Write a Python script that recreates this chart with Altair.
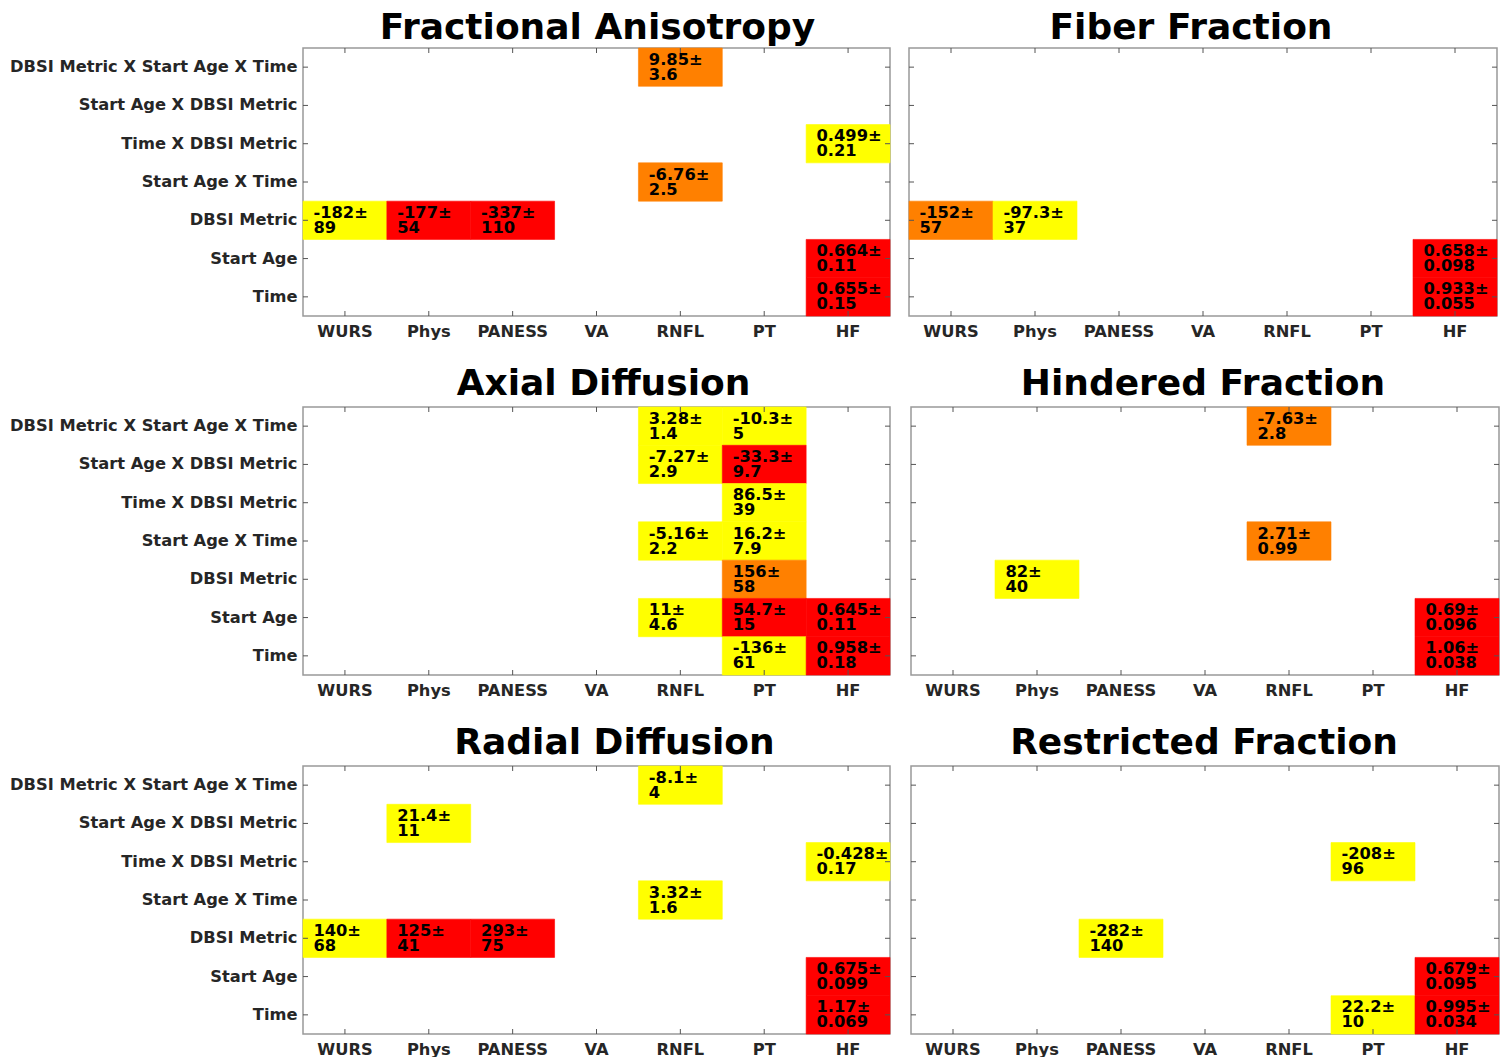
import altair as alt
import pandas as pd

COLS = ["WURS", "Phys", "PANESS", "VA", "RNFL", "PT", "HF"]
ROWS = [
    "DBSI Metric X Start Age X Time",
    "Start Age X DBSI Metric",
    "Time X DBSI Metric",
    "Start Age X Time",
    "DBSI Metric",
    "Start Age",
    "Time",
]
SIG_LEVELS = ["p<0.05", "p<0.01", "p<0.001"]
SIG_COLORS = ["#FFFF00", "#FF8000", "#FF0000"]

R0, R1, R2, R3, R4, R5, R6 = ROWS

FA_CELLS = [
    (R0, "RNFL", "9.85", "3.6", "p<0.01"),
    (R2, "HF", "0.499", "0.21", "p<0.05"),
    (R3, "RNFL", "-6.76", "2.5", "p<0.01"),
    (R4, "WURS", "-182", "89", "p<0.05"),
    (R4, "Phys", "-177", "54", "p<0.001"),
    (R4, "PANESS", "-337", "110", "p<0.001"),
    (R5, "HF", "0.664", "0.11", "p<0.001"),
    (R6, "HF", "0.655", "0.15", "p<0.001"),
]
FF_CELLS = [
    (R4, "WURS", "-152", "57", "p<0.01"),
    (R4, "Phys", "-97.3", "37", "p<0.05"),
    (R5, "HF", "0.658", "0.098", "p<0.001"),
    (R6, "HF", "0.933", "0.055", "p<0.001"),
]
AD_CELLS = [
    (R0, "RNFL", "3.28", "1.4", "p<0.05"),
    (R0, "PT", "-10.3", "5", "p<0.05"),
    (R1, "RNFL", "-7.27", "2.9", "p<0.05"),
    (R1, "PT", "-33.3", "9.7", "p<0.001"),
    (R2, "PT", "86.5", "39", "p<0.05"),
    (R3, "RNFL", "-5.16", "2.2", "p<0.05"),
    (R3, "PT", "16.2", "7.9", "p<0.05"),
    (R4, "PT", "156", "58", "p<0.01"),
    (R5, "RNFL", "11", "4.6", "p<0.05"),
    (R5, "PT", "54.7", "15", "p<0.001"),
    (R5, "HF", "0.645", "0.11", "p<0.001"),
    (R6, "PT", "-136", "61", "p<0.05"),
    (R6, "HF", "0.958", "0.18", "p<0.001"),
]
HF_CELLS = [
    (R0, "RNFL", "-7.63", "2.8", "p<0.01"),
    (R3, "RNFL", "2.71", "0.99", "p<0.01"),
    (R4, "Phys", "82", "40", "p<0.05"),
    (R5, "HF", "0.69", "0.096", "p<0.001"),
    (R6, "HF", "1.06", "0.038", "p<0.001"),
]
RD_CELLS = [
    (R0, "RNFL", "-8.1", "4", "p<0.05"),
    (R1, "Phys", "21.4", "11", "p<0.05"),
    (R2, "HF", "-0.428", "0.17", "p<0.05"),
    (R3, "RNFL", "3.32", "1.6", "p<0.05"),
    (R4, "WURS", "140", "68", "p<0.05"),
    (R4, "Phys", "125", "41", "p<0.001"),
    (R4, "PANESS", "293", "75", "p<0.001"),
    (R5, "HF", "0.675", "0.099", "p<0.001"),
    (R6, "HF", "1.17", "0.069", "p<0.001"),
]
RF_CELLS = [
    (R2, "PT", "-208", "96", "p<0.05"),
    (R4, "PANESS", "-282", "140", "p<0.05"),
    (R5, "HF", "0.679", "0.095", "p<0.001"),
    (R6, "PT", "22.2", "10", "p<0.05"),
    (R6, "HF", "0.995", "0.034", "p<0.001"),
]

FONT = "DejaVu Sans"
LABEL_COLOR = "#262626"
TICK_COLOR = "#555555"
H = 268
FS = 16.3


def panel(title, cells, show_y, width, title_offset=4, title_dx=0):
    df = pd.DataFrame(cells, columns=["row", "col", "est", "se", "sig"])
    df["label"] = df["est"] + "±\n" + df["se"]
    xaxis = alt.Axis(labelAngle=0, labelFont=FONT, labelFontWeight="bold",
                     labelFontSize=FS, labelColor=LABEL_COLOR, ticks=False,
                     tickSize=0, domain=False, labelPadding=7,
                     minExtent=25, maxExtent=25)
    xs = alt.Scale(domain=COLS, paddingInner=0, paddingOuter=0)
    ys = alt.Scale(domain=ROWS, paddingInner=0, paddingOuter=0)
    if show_y:
        yaxis = alt.Axis(labelFont=FONT, labelFontWeight="bold", labelFontSize=FS,
                         labelColor=LABEL_COLOR, ticks=False, tickSize=0,
                         domain=False, labelPadding=6, labelLimit=400,
                         minExtent=297, maxExtent=297)
    else:
        yaxis = None
    x = alt.X("col:N", scale=xs, axis=xaxis, title=None)
    y = alt.Y("row:N", scale=ys, axis=yaxis, title=None)
    sig_scale = alt.Scale(domain=SIG_LEVELS, range=SIG_COLORS)
    rect = alt.Chart(df).mark_rect(strokeWidth=0.6).encode(
        x=x, y=y,
        color=alt.Color("sig:N", scale=sig_scale, legend=None),
        stroke=alt.Stroke("sig:N", scale=sig_scale, legend=None),
    )
    text = alt.Chart(df).mark_text(
        align="left", baseline="middle", dx=-width / 7 * 0.4 + 2, dy=-7.5, font=FONT,
        fontWeight="bold", fontSize=FS, lineHeight=15, lineBreak="\n", color="black",
    ).encode(x=x, y=y, text="label:N")
    tx = pd.DataFrame({"col": COLS})
    ty = pd.DataFrame({"row": ROWS})
    xt = alt.X("col:N", scale=xs, axis=xaxis, title=None, bandPosition=0.5)
    yt = alt.Y("row:N", scale=ys, axis=yaxis, title=None, bandPosition=0.5)
    top_ticks = alt.Chart(tx).mark_rule(color=TICK_COLOR, strokeWidth=1).encode(
        x=xt, y=alt.value(0), y2=alt.value(5))
    bot_ticks = alt.Chart(tx).mark_rule(color=TICK_COLOR, strokeWidth=1).encode(
        x=xt, y=alt.value(H), y2=alt.value(H - 5))
    left_ticks = alt.Chart(ty).mark_rule(color=TICK_COLOR, strokeWidth=1).encode(
        y=yt, x=alt.value(0), x2=alt.value(5))
    right_ticks = alt.Chart(ty).mark_rule(color=TICK_COLOR, strokeWidth=1).encode(
        y=yt, x=alt.value(width), x2=alt.value(width - 5))
    return alt.layer(rect, text, top_ticks, bot_ticks, left_ticks, right_ticks).properties(
        width=width, height=H,
        title=alt.TitleParams(text=title, fontSize=36, font=FONT, fontWeight="bold",
                              color="black", anchor="middle", offset=title_offset,
                              dx=title_dx),
    )


row1 = alt.hconcat(panel("Fractional Anisotropy", FA_CELLS, True, 587, 1, 1),
                   panel("Fiber Fraction", FF_CELLS, False, 588, 1, -12), spacing=15)
row2 = alt.hconcat(panel("Axial Diffusion", AD_CELLS, True, 587, 4, 7),
                   panel("Hindered Fraction", HF_CELLS, False, 588, 4, -2), spacing=17)
row3 = alt.hconcat(panel("Radial Diffusion", RD_CELLS, True, 587, 4, 18),
                   panel("Restricted Fraction", RF_CELLS, False, 588, 4, -1), spacing=17)

chart = alt.vconcat(row1, row2, row3, spacing=22).properties(
    padding={"left": 5, "top": 8, "right": 5, "bottom": 5},
    background="white",
).configure_view(stroke="#999999", strokeWidth=1.5)

chart.save("out.html", embed_options={"renderer": "svg", "actions": False})
